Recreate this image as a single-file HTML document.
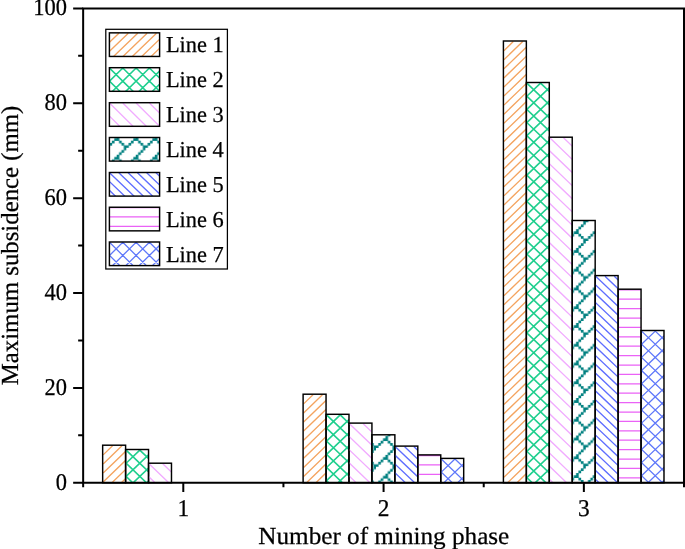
<!DOCTYPE html>
<html><head><meta charset="utf-8"><title>Maximum subsidence chart</title>
<style>html,body{margin:0;padding:0;background:#fff}svg{display:block}</style></head>
<body>
<svg width="685" height="549" viewBox="0 0 685 549" style="display:block">
<rect x="0" y="0" width="685" height="549" fill="#fff"/>
<clipPath id="c1"><rect x="102.66" y="445.20" width="22.94" height="37.55"/></clipPath><path clip-path="url(#c1)" d="M103.16 445.80L103.16 445.80M112.56 445.80L103.16 454.88M121.96 445.80L103.16 463.95M131.36 445.80L103.16 473.03M140.76 445.80L103.16 482.10M150.16 445.80L103.16 491.18M159.56 445.80L103.16 500.25M168.96 445.80L103.16 509.32" stroke="#F4A460" stroke-width="1.35" fill="none"/><rect x="102.66" y="445.20" width="22.94" height="37.55" fill="none" stroke="#000" stroke-width="1.45"/>
<clipPath id="c2"><rect x="125.60" y="449.50" width="22.94" height="33.25"/></clipPath><path clip-path="url(#c2)" d="M126.10 450.10L126.10 450.10M139.80 450.10L126.10 463.25M153.50 450.10L126.10 476.40M167.20 450.10L126.10 489.55M180.90 450.10L126.10 502.70M194.60 450.10L126.10 515.85M85.00 450.10L133.34 496.50M98.70 450.10L147.04 496.50M112.40 450.10L160.74 496.50M126.10 450.10L174.44 496.50M139.80 450.10L188.14 496.50M153.50 450.10L201.84 496.50" stroke="#1FCF8E" stroke-width="1.6" fill="none"/><rect x="125.60" y="449.50" width="22.94" height="33.25" fill="none" stroke="#000" stroke-width="1.45"/>
<clipPath id="c3"><rect x="148.54" y="463.20" width="22.94" height="19.55"/></clipPath><path clip-path="url(#c3)" d="M121.64 463.80L155.71 496.50M135.34 463.80L169.41 496.50M149.04 463.80L183.11 496.50M162.74 463.80L196.81 496.50M176.44 463.80L210.51 496.50" stroke="#F1ACFF" stroke-width="1.35" fill="none"/><rect x="148.54" y="463.20" width="22.94" height="19.55" fill="none" stroke="#000" stroke-width="1.45"/>
<clipPath id="c4"><rect x="303.11" y="394.20" width="22.94" height="88.55"/></clipPath><path clip-path="url(#c4)" d="M303.61 394.80L303.61 394.80M313.01 394.80L303.61 403.88M322.41 394.80L303.61 412.95M331.81 394.80L303.61 422.03M341.21 394.80L303.61 431.10M350.61 394.80L303.61 440.18M360.01 394.80L303.61 449.25M369.41 394.80L303.61 458.32M378.81 394.80L303.61 467.40M388.21 394.80L303.61 476.48M397.61 394.80L303.61 485.55M407.01 394.80L303.61 494.62M416.41 394.80L303.61 503.70M425.81 394.80L303.61 512.77" stroke="#F4A460" stroke-width="1.35" fill="none"/><rect x="303.11" y="394.20" width="22.94" height="88.55" fill="none" stroke="#000" stroke-width="1.45"/>
<clipPath id="c5"><rect x="326.05" y="414.30" width="22.94" height="68.45"/></clipPath><path clip-path="url(#c5)" d="M326.55 414.90L326.55 414.90M340.25 414.90L326.55 428.05M353.95 414.90L326.55 441.20M367.65 414.90L326.55 454.35M381.35 414.90L326.55 467.50M395.05 414.90L326.55 480.65M408.75 414.90L326.55 493.80M422.45 414.90L326.55 506.95M244.35 414.90L329.36 496.50M258.05 414.90L343.06 496.50M271.75 414.90L356.76 496.50M285.45 414.90L370.46 496.50M299.15 414.90L384.16 496.50M312.85 414.90L397.86 496.50M326.55 414.90L411.56 496.50M340.25 414.90L425.26 496.50M353.95 414.90L438.96 496.50" stroke="#1FCF8E" stroke-width="1.6" fill="none"/><rect x="326.05" y="414.30" width="22.94" height="68.45" fill="none" stroke="#000" stroke-width="1.45"/>
<clipPath id="c6"><rect x="348.99" y="423.10" width="22.94" height="59.65"/></clipPath><path clip-path="url(#c6)" d="M280.99 423.70L356.83 496.50M294.69 423.70L370.53 496.50M308.39 423.70L384.23 496.50M322.09 423.70L397.93 496.50M335.79 423.70L411.63 496.50M349.49 423.70L425.33 496.50M363.19 423.70L439.03 496.50M376.89 423.70L452.73 496.50" stroke="#F1ACFF" stroke-width="1.35" fill="none"/><rect x="348.99" y="423.10" width="22.94" height="59.65" fill="none" stroke="#000" stroke-width="1.45"/>
<clipPath id="c7"><rect x="371.93" y="434.80" width="22.94" height="47.95"/></clipPath><pattern id="b7" patternUnits="userSpaceOnUse" x="13.67" y="16.50" width="19.07" height="18.76"><path d="M-0.143 16.274h2.670v2.626h-2.670zM2.241 13.929h2.670v2.626h-2.670zM4.624 11.584h2.670v2.626h-2.670zM7.008 9.239h2.670v2.626h-2.670zM9.392 6.894h2.670v2.626h-2.670zM11.776 4.549h2.670v2.626h-2.670zM14.159 2.204h2.670v2.626h-2.670zM16.543 -0.141h2.670v2.626h-2.670zM9.392 9.239h2.670v2.626h-2.670zM11.776 11.584h2.670v2.626h-2.670zM14.159 13.929h2.670v2.626h-2.670zM16.543 16.274h2.670v2.626h-2.670z" fill="#008080"/></pattern><rect x="371.93" y="434.80" width="22.94" height="47.95" fill="url(#b7)"/><rect x="371.93" y="434.80" width="22.94" height="47.95" fill="none" stroke="#000" stroke-width="1.45"/>
<clipPath id="c8"><rect x="394.87" y="446.10" width="22.94" height="36.65"/></clipPath><path clip-path="url(#c8)" d="M348.87 446.70L396.73 492.19M358.17 446.70L406.03 492.19M367.47 446.70L415.33 492.19M376.77 446.70L424.63 492.19M386.07 446.70L433.93 492.19M395.37 446.70L443.23 492.19M404.67 446.70L452.53 492.19M413.97 446.70L461.83 492.19M423.27 446.70L471.13 492.19" stroke="#5F6EFF" stroke-width="1.35" fill="none"/><rect x="394.87" y="446.10" width="22.94" height="36.65" fill="none" stroke="#000" stroke-width="1.45"/>
<clipPath id="c9"><rect x="417.81" y="454.90" width="22.94" height="27.85"/></clipPath><path clip-path="url(#c9)" d="M418.31 455.50h22.94M418.31 464.90h22.94M418.31 474.30h22.94" stroke="#EA62F6" stroke-width="1.25" fill="none"/><rect x="417.81" y="454.90" width="22.94" height="27.85" fill="none" stroke="#000" stroke-width="1.45"/>
<clipPath id="c10"><rect x="440.75" y="458.40" width="22.94" height="24.35"/></clipPath><path clip-path="url(#c10)" d="M441.25 459.00L441.25 459.00M454.95 459.00L441.25 472.15M468.65 459.00L441.25 485.30M482.35 459.00L441.25 498.45M496.05 459.00L441.25 511.60M413.85 459.00L452.92 496.50M427.55 459.00L466.62 496.50M441.25 459.00L480.32 496.50M454.95 459.00L494.02 496.50M468.65 459.00L507.72 496.50" stroke="#5F78FA" stroke-width="1.3" fill="none"/><rect x="440.75" y="458.40" width="22.94" height="24.35" fill="none" stroke="#000" stroke-width="1.45"/>
<clipPath id="c11"><rect x="503.41" y="41.00" width="22.94" height="441.75"/></clipPath><path clip-path="url(#c11)" d="M503.91 41.60L503.91 41.60M513.31 41.60L503.91 50.67M522.71 41.60L503.91 59.75M532.11 41.60L503.91 68.83M541.51 41.60L503.91 77.90M550.91 41.60L503.91 86.97M560.31 41.60L503.91 96.05M569.71 41.60L503.91 105.12M579.11 41.60L503.91 114.20M588.51 41.60L503.91 123.28M597.91 41.60L503.91 132.35M607.31 41.60L503.91 141.42M616.71 41.60L503.91 150.50M626.11 41.60L503.91 159.57M635.51 41.60L503.91 168.65M644.91 41.60L503.91 177.72M654.31 41.60L503.91 186.80M663.71 41.60L503.91 195.87M673.11 41.60L503.91 204.95M682.51 41.60L503.91 214.02M691.91 41.60L503.91 223.10M701.31 41.60L503.91 232.17M710.71 41.60L503.91 241.25M720.11 41.60L503.91 250.32M729.51 41.60L503.91 259.40M738.91 41.60L503.91 268.47M748.31 41.60L503.91 277.55M757.71 41.60L503.91 286.62M767.11 41.60L503.91 295.70M776.51 41.60L503.91 304.77M785.91 41.60L503.91 313.85M795.31 41.60L503.91 322.93M804.71 41.60L503.91 332.00M814.11 41.60L503.91 341.07M823.51 41.60L503.91 350.15M832.91 41.60L503.91 359.23M842.31 41.60L503.91 368.30M851.71 41.60L503.91 377.38M861.11 41.60L503.91 386.45M870.51 41.60L503.91 395.52M879.91 41.60L503.91 404.60M889.31 41.60L503.91 413.68M898.71 41.60L503.91 422.75M908.11 41.60L503.91 431.82M917.51 41.60L503.91 440.90M926.91 41.60L503.91 449.97M936.31 41.60L503.91 459.05M945.71 41.60L503.91 468.12M955.11 41.60L503.91 477.20M964.51 41.60L503.91 486.27M973.91 41.60L503.91 495.35M983.31 41.60L503.91 504.43M992.71 41.60L503.91 513.50" stroke="#F4A460" stroke-width="1.35" fill="none"/><rect x="503.41" y="41.00" width="22.94" height="441.75" fill="none" stroke="#000" stroke-width="1.45"/>
<clipPath id="c12"><rect x="526.35" y="82.50" width="22.94" height="400.25"/></clipPath><path clip-path="url(#c12)" d="M526.85 83.10L526.85 83.10M540.55 83.10L526.85 96.25M554.25 83.10L526.85 109.40M567.95 83.10L526.85 122.55M581.65 83.10L526.85 135.70M595.35 83.10L526.85 148.85M609.05 83.10L526.85 162.00M622.75 83.10L526.85 175.15M636.45 83.10L526.85 188.30M650.15 83.10L526.85 201.45M663.85 83.10L526.85 214.60M677.55 83.10L526.85 227.75M691.25 83.10L526.85 240.90M704.95 83.10L526.85 254.05M718.65 83.10L526.85 267.20M732.35 83.10L526.85 280.35M746.05 83.10L526.85 293.50M759.75 83.10L526.85 306.65M773.45 83.10L526.85 319.80M787.15 83.10L526.85 332.95M800.85 83.10L526.85 346.10M814.55 83.10L526.85 359.25M828.25 83.10L526.85 372.40M841.95 83.10L526.85 385.55M855.65 83.10L526.85 398.70M869.35 83.10L526.85 411.85M883.05 83.10L526.85 425.00M896.75 83.10L526.85 438.15M910.45 83.10L526.85 451.30M924.15 83.10L526.85 464.45M937.85 83.10L526.85 477.60M951.55 83.10L526.85 490.75M965.25 83.10L526.85 503.90M978.95 83.10L526.85 517.05M102.15 83.10L532.84 496.50M115.85 83.10L546.54 496.50M129.55 83.10L560.24 496.50M143.25 83.10L573.94 496.50M156.95 83.10L587.64 496.50M170.65 83.10L601.34 496.50M184.35 83.10L615.04 496.50M198.05 83.10L628.74 496.50M211.75 83.10L642.44 496.50M225.45 83.10L656.14 496.50M239.15 83.10L669.84 496.50M252.85 83.10L683.54 496.50M266.55 83.10L697.24 496.50M280.25 83.10L710.94 496.50M293.95 83.10L724.64 496.50M307.65 83.10L738.34 496.50M321.35 83.10L752.04 496.50M335.05 83.10L765.74 496.50M348.75 83.10L779.44 496.50M362.45 83.10L793.14 496.50M376.15 83.10L806.84 496.50M389.85 83.10L820.54 496.50M403.55 83.10L834.24 496.50M417.25 83.10L847.94 496.50M430.95 83.10L861.64 496.50M444.65 83.10L875.34 496.50M458.35 83.10L889.04 496.50M472.05 83.10L902.74 496.50M485.75 83.10L916.44 496.50M499.45 83.10L930.14 496.50M513.15 83.10L943.84 496.50M526.85 83.10L957.54 496.50M540.55 83.10L971.24 496.50M554.25 83.10L984.94 496.50" stroke="#1FCF8E" stroke-width="1.6" fill="none"/><rect x="526.35" y="82.50" width="22.94" height="400.25" fill="none" stroke="#000" stroke-width="1.45"/>
<clipPath id="c13"><rect x="549.29" y="137.20" width="22.94" height="345.55"/></clipPath><path clip-path="url(#c13)" d="M179.89 137.80L553.59 496.50M193.59 137.80L567.29 496.50M207.29 137.80L580.99 496.50M220.99 137.80L594.69 496.50M234.69 137.80L608.39 496.50M248.39 137.80L622.09 496.50M262.09 137.80L635.79 496.50M275.79 137.80L649.49 496.50M289.49 137.80L663.19 496.50M303.19 137.80L676.89 496.50M316.89 137.80L690.59 496.50M330.59 137.80L704.29 496.50M344.29 137.80L717.99 496.50M357.99 137.80L731.69 496.50M371.69 137.80L745.39 496.50M385.39 137.80L759.09 496.50M399.09 137.80L772.79 496.50M412.79 137.80L786.49 496.50M426.49 137.80L800.19 496.50M440.19 137.80L813.89 496.50M453.89 137.80L827.59 496.50M467.59 137.80L841.29 496.50M481.29 137.80L854.99 496.50M494.99 137.80L868.69 496.50M508.69 137.80L882.39 496.50M522.39 137.80L896.09 496.50M536.09 137.80L909.79 496.50M549.79 137.80L923.49 496.50M563.49 137.80L937.19 496.50M577.19 137.80L950.89 496.50" stroke="#F1ACFF" stroke-width="1.35" fill="none"/><rect x="549.29" y="137.20" width="22.94" height="345.55" fill="none" stroke="#000" stroke-width="1.45"/>
<clipPath id="c14"><rect x="572.23" y="220.50" width="22.94" height="262.25"/></clipPath><pattern id="b14" patternUnits="userSpaceOnUse" x="13.67" y="15.90" width="19.07" height="18.76"><path d="M-0.143 16.274h2.670v2.626h-2.670zM2.241 13.929h2.670v2.626h-2.670zM4.624 11.584h2.670v2.626h-2.670zM7.008 9.239h2.670v2.626h-2.670zM9.392 6.894h2.670v2.626h-2.670zM11.776 4.549h2.670v2.626h-2.670zM14.159 2.204h2.670v2.626h-2.670zM16.543 -0.141h2.670v2.626h-2.670zM9.392 9.239h2.670v2.626h-2.670zM11.776 11.584h2.670v2.626h-2.670zM14.159 13.929h2.670v2.626h-2.670zM16.543 16.274h2.670v2.626h-2.670z" fill="#008080"/></pattern><rect x="572.23" y="220.50" width="22.94" height="262.25" fill="url(#b14)"/><rect x="572.23" y="220.50" width="22.94" height="262.25" fill="none" stroke="#000" stroke-width="1.45"/>
<clipPath id="c15"><rect x="595.17" y="275.60" width="22.94" height="207.15"/></clipPath><path clip-path="url(#c15)" d="M372.47 276.20L599.70 492.19M381.77 276.20L609.00 492.19M391.07 276.20L618.30 492.19M400.37 276.20L627.60 492.19M409.67 276.20L636.90 492.19M418.97 276.20L646.20 492.19M428.27 276.20L655.50 492.19M437.57 276.20L664.80 492.19M446.87 276.20L674.10 492.19M456.17 276.20L683.40 492.19M465.47 276.20L692.70 492.19M474.77 276.20L702.00 492.19M484.07 276.20L711.30 492.19M493.37 276.20L720.60 492.19M502.67 276.20L729.90 492.19M511.97 276.20L739.20 492.19M521.27 276.20L748.50 492.19M530.57 276.20L757.80 492.19M539.87 276.20L767.10 492.19M549.17 276.20L776.40 492.19M558.47 276.20L785.70 492.19M567.77 276.20L795.00 492.19M577.07 276.20L804.30 492.19M586.37 276.20L813.60 492.19M595.67 276.20L822.90 492.19M604.97 276.20L832.20 492.19M614.27 276.20L841.50 492.19M623.57 276.20L850.80 492.19" stroke="#5F6EFF" stroke-width="1.35" fill="none"/><rect x="595.17" y="275.60" width="22.94" height="207.15" fill="none" stroke="#000" stroke-width="1.45"/>
<clipPath id="c16"><rect x="618.11" y="289.20" width="22.94" height="193.55"/></clipPath><path clip-path="url(#c16)" d="M618.61 289.80h22.94M618.61 299.20h22.94M618.61 308.60h22.94M618.61 318.00h22.94M618.61 327.40h22.94M618.61 336.80h22.94M618.61 346.20h22.94M618.61 355.60h22.94M618.61 365.00h22.94M618.61 374.40h22.94M618.61 383.80h22.94M618.61 393.20h22.94M618.61 402.60h22.94M618.61 412.00h22.94M618.61 421.40h22.94M618.61 430.80h22.94M618.61 440.20h22.94M618.61 449.60h22.94M618.61 459.00h22.94M618.61 468.40h22.94M618.61 477.80h22.94" stroke="#EA62F6" stroke-width="1.25" fill="none"/><rect x="618.11" y="289.20" width="22.94" height="193.55" fill="none" stroke="#000" stroke-width="1.45"/>
<clipPath id="c17"><rect x="641.05" y="330.50" width="22.94" height="152.25"/></clipPath><path clip-path="url(#c17)" d="M641.55 331.10L641.55 331.10M655.25 331.10L641.55 344.25M668.95 331.10L641.55 357.40M682.65 331.10L641.55 370.55M696.35 331.10L641.55 383.70M710.05 331.10L641.55 396.85M723.75 331.10L641.55 410.00M737.45 331.10L641.55 423.15M751.15 331.10L641.55 436.30M764.85 331.10L641.55 449.45M778.55 331.10L641.55 462.60M792.25 331.10L641.55 475.75M805.95 331.10L641.55 488.90M819.65 331.10L641.55 502.05M833.35 331.10L641.55 515.20M477.15 331.10L649.47 496.50M490.85 331.10L663.17 496.50M504.55 331.10L676.87 496.50M518.25 331.10L690.57 496.50M531.95 331.10L704.27 496.50M545.65 331.10L717.97 496.50M559.35 331.10L731.67 496.50M573.05 331.10L745.37 496.50M586.75 331.10L759.07 496.50M600.45 331.10L772.77 496.50M614.15 331.10L786.47 496.50M627.85 331.10L800.17 496.50M641.55 331.10L813.87 496.50M655.25 331.10L827.57 496.50M668.95 331.10L841.27 496.50" stroke="#5F78FA" stroke-width="1.3" fill="none"/><rect x="641.05" y="330.50" width="22.94" height="152.25" fill="none" stroke="#000" stroke-width="1.45"/>
<g stroke="#000" stroke-width="2" fill="none" stroke-linecap="butt">
<path d="M83.15 7.4V483.75M82.15 482.75H685.0M684.0 482.75V7.4M82.15 8.4H685.0"/>
<path d="M73.15 482.75H83.15M78.15 435.31H83.15M73.15 387.88H83.15M78.15 340.44H83.15M73.15 293.01H83.15M78.15 245.57H83.15M73.15 198.14H83.15M78.15 150.70H83.15M73.15 103.27H83.15M78.15 55.83H83.15M73.15 8.40H83.15M83.15 482.75V487.15M183.29 482.75V491.95M283.43 482.75V487.15M383.58 482.75V491.95M483.72 482.75V487.15M583.86 482.75V491.95M684.00 482.75V487.15"/>
</g>
<g font-family='"Liberation Serif","Times New Roman",Times,serif' font-size="22.8" fill="#000" stroke="#000" stroke-width="0.25" text-rendering="geometricPrecision">
<text x="55.68" y="489.65" font-size="24.0" textLength="11.22" lengthAdjust="spacingAndGlyphs">0</text>
<text x="44.46" y="394.78" font-size="24.0" textLength="22.44" lengthAdjust="spacingAndGlyphs">20</text>
<text x="44.46" y="299.91" font-size="24.0" textLength="22.44" lengthAdjust="spacingAndGlyphs">40</text>
<text x="44.46" y="205.04" font-size="24.0" textLength="22.44" lengthAdjust="spacingAndGlyphs">60</text>
<text x="44.46" y="110.17" font-size="24.0" textLength="22.44" lengthAdjust="spacingAndGlyphs">80</text>
<text x="33.24" y="15.30" font-size="24.0" textLength="33.66" lengthAdjust="spacingAndGlyphs">100</text>
<text x="177.44" y="516.0" font-size="24.0" textLength="11.70" lengthAdjust="spacingAndGlyphs">1</text>
<text x="377.73" y="516.0" font-size="24.0" textLength="11.70" lengthAdjust="spacingAndGlyphs">2</text>
<text x="578.01" y="516.0" font-size="24.0" textLength="11.70" lengthAdjust="spacingAndGlyphs">3</text>
<text x="258.3" y="543.7" textLength="251.0" lengthAdjust="spacingAndGlyphs" font-size="24.5">Number of mining phase</text>
<text transform="translate(17.8,385.2) rotate(-90)" textLength="279.5" lengthAdjust="spacingAndGlyphs" font-size="24.5">Maximum subsidence (mm)</text>
<text x="165.9" y="52.35" textLength="57.8" lengthAdjust="spacingAndGlyphs">Line 1</text>
<text x="165.9" y="87.20" textLength="57.8" lengthAdjust="spacingAndGlyphs">Line 2</text>
<text x="165.9" y="122.20" textLength="57.8" lengthAdjust="spacingAndGlyphs">Line 3</text>
<text x="165.9" y="157.00" textLength="57.8" lengthAdjust="spacingAndGlyphs">Line 4</text>
<text x="165.9" y="192.00" textLength="57.8" lengthAdjust="spacingAndGlyphs">Line 5</text>
<text x="165.9" y="226.75" textLength="57.8" lengthAdjust="spacingAndGlyphs">Line 6</text>
<text x="165.9" y="261.50" textLength="57.8" lengthAdjust="spacingAndGlyphs">Line 7</text>
</g>
<rect x="105.8" y="29.3" width="121.60" height="239.70" fill="none" stroke="#000" stroke-width="1.25"/>
<clipPath id="c18"><rect x="109.40" y="32.85" width="50.20" height="23.60"/></clipPath><path clip-path="url(#c18)" d="M109.50 33.15L109.50 33.15M118.90 33.15L109.50 42.22M128.30 33.15L109.50 51.30M137.70 33.15L109.50 60.38M147.10 33.15L109.50 69.45M156.50 33.15L109.50 78.53M165.90 33.15L109.50 87.60M175.30 33.15L109.50 96.67M184.70 33.15L109.50 105.75" stroke="#F4A460" stroke-width="1.35" fill="none"/><rect x="109.40" y="32.85" width="50.20" height="23.60" fill="none" stroke="#000" stroke-width="1.45"/>
<clipPath id="c19"><rect x="109.40" y="67.70" width="50.20" height="23.60"/></clipPath><path clip-path="url(#c19)" d="M109.50 68.00L109.50 68.00M122.80 68.00L109.50 81.15M136.10 68.00L109.50 94.30M149.40 68.00L109.50 107.45M162.70 68.00L109.50 120.60M176.00 68.00L109.50 133.75M189.30 68.00L109.50 146.90M82.90 68.00L120.07 104.75M96.20 68.00L133.37 104.75M109.50 68.00L146.67 104.75M122.80 68.00L159.97 104.75M136.10 68.00L173.27 104.75M149.40 68.00L186.57 104.75M162.70 68.00L199.87 104.75" stroke="#1FCF8E" stroke-width="1.6" fill="none"/><rect x="109.40" y="67.70" width="50.20" height="23.60" fill="none" stroke="#000" stroke-width="1.45"/>
<clipPath id="c20"><rect x="109.40" y="102.70" width="50.20" height="23.60"/></clipPath><path clip-path="url(#c20)" d="M82.90 103.00L120.07 139.75M96.20 103.00L133.37 139.75M109.50 103.00L146.67 139.75M122.80 103.00L159.97 139.75M136.10 103.00L173.27 139.75M149.40 103.00L186.57 139.75M162.70 103.00L199.87 139.75" stroke="#F1ACFF" stroke-width="1.35" fill="none"/><rect x="109.40" y="102.70" width="50.20" height="23.60" fill="none" stroke="#000" stroke-width="1.45"/>
<clipPath id="c21"><rect x="109.40" y="137.50" width="50.20" height="23.60"/></clipPath><pattern id="b21" patternUnits="userSpaceOnUse" x="11.92" y="16.50" width="19.07" height="18.76"><path d="M-0.143 16.274h2.670v2.626h-2.670zM2.241 13.929h2.670v2.626h-2.670zM4.624 11.584h2.670v2.626h-2.670zM7.008 9.239h2.670v2.626h-2.670zM9.392 6.894h2.670v2.626h-2.670zM11.776 4.549h2.670v2.626h-2.670zM14.159 2.204h2.670v2.626h-2.670zM16.543 -0.141h2.670v2.626h-2.670zM9.392 9.239h2.670v2.626h-2.670zM11.776 11.584h2.670v2.626h-2.670zM14.159 13.929h2.670v2.626h-2.670zM16.543 16.274h2.670v2.626h-2.670z" fill="#008080"/></pattern><rect x="109.40" y="137.50" width="50.20" height="23.60" fill="url(#b21)"/><rect x="109.40" y="137.50" width="50.20" height="23.60" fill="none" stroke="#000" stroke-width="1.45"/>
<clipPath id="c22"><rect x="109.40" y="172.50" width="50.20" height="23.60"/></clipPath><path clip-path="url(#c22)" d="M81.60 172.80L115.73 205.24M90.90 172.80L125.03 205.24M100.20 172.80L134.33 205.24M109.50 172.80L143.63 205.24M118.80 172.80L152.93 205.24M128.10 172.80L162.23 205.24M137.40 172.80L171.53 205.24M146.70 172.80L180.83 205.24M156.00 172.80L190.13 205.24M165.30 172.80L199.43 205.24" stroke="#5F6EFF" stroke-width="1.35" fill="none"/><rect x="109.40" y="172.50" width="50.20" height="23.60" fill="none" stroke="#000" stroke-width="1.45"/>
<clipPath id="c23"><rect x="109.40" y="207.25" width="50.20" height="23.60"/></clipPath><path clip-path="url(#c23)" d="M109.50 207.55h50.20M109.50 216.95h50.20M109.50 226.35h50.20" stroke="#EA62F6" stroke-width="1.25" fill="none"/><rect x="109.40" y="207.25" width="50.20" height="23.60" fill="none" stroke="#000" stroke-width="1.45"/>
<clipPath id="c24"><rect x="109.40" y="242.00" width="50.20" height="23.60"/></clipPath><path clip-path="url(#c24)" d="M109.50 242.30L109.50 242.30M122.80 242.30L109.50 255.45M136.10 242.30L109.50 268.60M149.40 242.30L109.50 281.75M162.70 242.30L109.50 294.90M176.00 242.30L109.50 308.05M189.30 242.30L109.50 321.20M82.90 242.30L120.07 279.05M96.20 242.30L133.37 279.05M109.50 242.30L146.67 279.05M122.80 242.30L159.97 279.05M136.10 242.30L173.27 279.05M149.40 242.30L186.57 279.05M162.70 242.30L199.87 279.05" stroke="#5F78FA" stroke-width="1.3" fill="none"/><rect x="109.40" y="242.00" width="50.20" height="23.60" fill="none" stroke="#000" stroke-width="1.45"/>
</svg>
</body></html>
